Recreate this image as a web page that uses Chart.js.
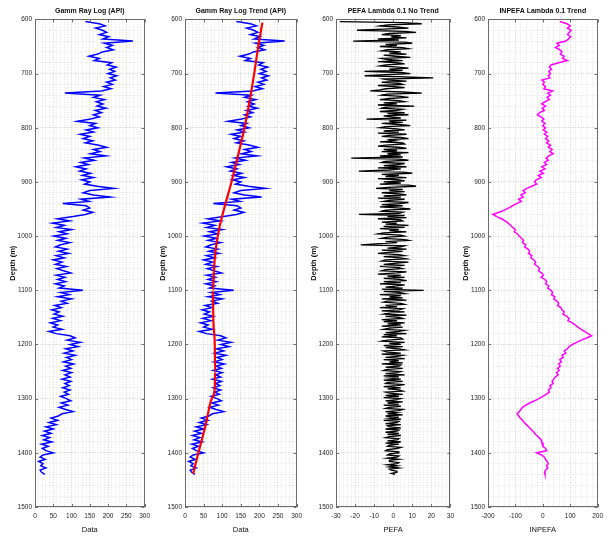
<!DOCTYPE html>
<html>
<head>
<meta charset="utf-8">
<script src="https://cdn.jsdelivr.net/npm/chart.js@4.4.0/dist/chart.umd.min.js"></script>
<style>
body { margin:0; background:#fff; width:608px; height:536px; position:relative; overflow:hidden; }
canvas { position:absolute; top:0; }
</style>
</head>
<body>
<canvas id="c1" width="155" height="536" style="left:0px"></canvas>
<canvas id="c2" width="157" height="536" style="left:150px"></canvas>
<canvas id="c3" width="158" height="536" style="left:301px"></canvas>
<canvas id="c4" width="155" height="536" style="left:453px"></canvas>
<script>
// sample depths (m): first sample and spacing
const depthStart = 604;
const depthStep = 4;
const pefaStep = 2;

// Gamma ray log (API)
const grValues = [
 138,176,192,166,185,196,176,202,186,268,190,212,196,214,184,172,148,176,162,210,
 198,222,204,218,200,224,206,220,196,212,188,208,182,82,178,160,190,168,186,170,
 194,165,182,160,176,152,116,166,150,172,140,160,124,150,132,158,138,172,196,160,
 178,152,194,135,162,125,146,112,140,122,152,130,160,128,150,136,170,216,150,132,
 160,206,126,148,76,140,150,132,158,138,104,62,95,48,80,58,100,66,88,52,
 84,62,96,70,56,88,64,92,58,80,50,74,56,86,60,78,98,58,82,62,
 84,56,80,66,131,70,94,62,100,72,88,54,72,46,66,52,76,48,70,42,
 62,50,74,38,58,96,110,88,124,96,118,84,104,80,110,86,100,78,106,84,
 98,76,100,82,96,74,98,82,94,76,96,80,92,70,86,98,72,90,66,84,
 104,74,64,44,62,38,58,30,50,26,44,20,40,24,46,18,36,20,30,50,
 22,14,28,10,22,16,30,14,18,27
];

// red trend on the gamma ray log
const trendDepths = [606, 650, 700, 750, 800, 850, 900, 950, 1000, 1050, 1100, 1150, 1200, 1250, 1280, 1300, 1350, 1400, 1438];
const trendValues = [208, 197, 186, 174, 160, 143, 125, 105, 88, 79, 75, 76, 80, 81, 80, 72, 55, 36, 22];

// PEFA (no trend), 2 m samples
const pefaValues = [
 -28,5,15,-3,-7,2,8,-5,-19,6,12,-2,-6,4,-1,7,-8,3,-21,6,10,-4,2,-7,5,8,-3,-6,4,-2,7,-5,1,9,-6,-3,5,-8,2,6,
 -4,-7,3,8,-2,5,-15,4,9,-3,-15,6,21,-5,-2,7,-6,3,5,-8,1,6,-4,-7,-12,5,15,-3,-6,4,8,-2,-7,3,6,-5,2,-8,11,-4,
 -6,5,2,-7,6,-3,8,-5,-1,4,-14,7,-2,5,-6,3,9,-4,-7,2,6,-5,3,-8,7,-2,-6,4,8,-3,1,-7,5,6,-4,-8,3,7,-5,2,
 -6,8,-3,4,-7,5,-22,3,8,-4,-6,6,2,-5,7,-8,4,-2,-18,5,10,-6,3,-4,7,-8,2,6,-5,4,-7,8,12,-3,-9,5,-2,6,-6,3,
 7,-5,4,-8,6,-2,-5,8,3,-6,5,-7,2,9,-4,-6,5,3,-18,6,-3,7,-8,4,5,-6,2,-4,8,-5,6,-7,3,-2,7,-5,-8,4,6,-3,
 -6,5,8,-4,2,-7,-17,6,4,-3,7,-6,5,-2,-8,3,6,-5,4,7,-4,-6,8,2,-5,6,-7,3,5,-4,-6,7,2,-8,4,-3,6,-5,3,7,
 -5,4,-7,6,2,-4,5,-6,16,-5,3,6,-7,4,-2,5,-6,7,-3,-5,4,6,-4,2,-7,5,3,-6,6,-2,-5,7,-4,3,5,-6,2,-5,6,-3,
 4,-6,5,-2,-5,6,3,-4,7,-5,2,-6,4,5,-3,-6,6,-2,4,-5,5,-4,3,6,-5,-3,4,-6,5,2,-4,6,-5,3,-2,5,-6,4,3,-4,
 5,-3,-5,4,2,-4,6,-5,3,-2,4,-5,5,-3,-4,6,2,-5,4,-3,3,5,-4,-2,5,-4,3,-5,4,2,-4,5,-3,3,-5,4,-2,-4,5,3,
 -4,2,-3,5,-4,3,-2,4,-5,3,2,-4,4,-3,-2,4,-4,3,2,-4,3,-3,4,-2,-4,3,2,-3,4,-4,3,-2,-3,4,2,-3,-4,3,3,-2,
 -3,3,2,-3,3,-2,-2,3,2,-3,2,-2,3,-2,-1,2,2,-1,1
];

// INPEFA (trend)
const inpefaValues = [
 62,88,100,90,104,96,90,102,94,84,52,60,46,62,70,64,78,72,90,58,
 30,24,32,22,28,20,26,-3,6,0,10,4,36,18,28,16,24,8,-4,10,
 -2,6,-12,-20,-6,4,-4,8,0,10,2,14,6,18,10,22,14,28,20,34,
 26,38,22,12,20,6,14,-4,8,-10,2,-16,-6,-24,-30,-22,-40,-58,-72,-64,
 -80,-72,-88,-78,-96,-110,-124,-140,-160,-182,-168,-150,-138,-126,-118,-110,-100,-104,-92,-86,
 -78,-70,-74,-62,-66,-54,-48,-52,-40,-44,-32,-26,-30,-18,-12,-16,-4,2,-6,8,
 14,10,22,18,30,36,32,44,40,52,58,54,66,70,78,74,88,96,92,108,
 118,128,140,152,166,178,160,140,124,108,96,90,78,84,70,74,62,68,58,64,
 54,60,50,56,46,40,34,38,26,30,20,24,12,0,-14,-30,-48,-62,-74,-80,
 -86,-94,-88,-82,-74,-68,-60,-52,-44,-36,-30,-22,-14,-6,-4,2,0,10,14,-22,
 -4,6,10,16,20,14,18,10,6,8
];

// axis ticks
const depthMin = 600, depthMax = 1500, depthMinor = 20, depthMajor = 100;

const FONT = "'Liberation Sans', Arial, sans-serif";

function toPoints(values, step) {
  return values.map((v, i) => ({ x: v, y: depthStart + i * step }));
}

// box round the plot and short inward ticks at the major values
const boxPlugin = {
  id: 'box',
  afterDraw(chart, args, opts) {
    const { ctx, chartArea: a, scales: { x, y } } = chart;
    ctx.save();
    ctx.strokeStyle = '#6b6b6b';
    ctx.lineWidth = 1;
    ctx.strokeRect(Math.round(a.left) + 0.5, Math.round(a.top) + 0.5,
      Math.round(a.right - a.left) - 1, Math.round(a.bottom - a.top) - 1);
    ctx.beginPath();
    x.ticks.forEach(t => {
      if (Math.abs(t.value % opts.xMajor) > 1e-6) return;
      const px = Math.round(x.getPixelForValue(t.value)) + 0.5;
      ctx.moveTo(px, a.top); ctx.lineTo(px, a.top + 3);
      ctx.moveTo(px, a.bottom); ctx.lineTo(px, a.bottom - 3);
    });
    y.ticks.forEach(t => {
      if (t.value % depthMajor !== 0) return;
      const py = Math.round(y.getPixelForValue(t.value)) + 0.5;
      ctx.moveTo(a.left, py); ctx.lineTo(a.left + 3, py);
      ctx.moveTo(a.right, py); ctx.lineTo(a.right - 3, py);
    });
    ctx.stroke();
    ctx.restore();
  }
};

function makePanel(id, title, xTitle, xMin, xMax, xMinor, xMajor, datasets) {
  const isMajor = (v, m) => Math.abs(v % m) < 1e-6;
  new Chart(document.getElementById(id), {
    type: 'scatter',
    data: { datasets },
    plugins: [boxPlugin],
    options: {
      responsive: false,
      animation: false,
      layout: { padding: { left: 0, right: 8, top: 0, bottom: 0 } },
      plugins: {
        legend: { display: false },
        tooltip: { enabled: false },
        title: { display: true, text: title, color: '#111', fullSize: false,
          font: { family: FONT, size: 7, weight: 'bold' }, padding: { top: 7, bottom: 4 } },
        box: { xMajor }
      },
      scales: {
        x: {
          type: 'linear', position: 'bottom', min: xMin, max: xMax,
          afterFit: s => { s.height = 29; },
          ticks: { stepSize: xMinor, autoSkip: false, maxRotation: 0, padding: 5, color: '#222',
            font: { family: FONT, size: 6.5 },
            callback: v => isMajor(v, xMajor) ? v : '' },
          grid: { drawTicks: false, lineWidth: 1,
            color: c => c.tick && isMajor(c.tick.value, xMajor) ? '#d0d0d0' : '#e4e4e4' },
          border: { display: false, dash: [1, 1.5] },
          title: { display: true, text: xTitle, color: '#111',
            font: { family: FONT, size: 7.5 }, padding: { top: 0, bottom: 2 } }
        },
        y: {
          type: 'linear', reverse: true, min: depthMin, max: depthMax,
          afterFit: s => { s.width = 35; },
          ticks: { stepSize: depthMinor, autoSkip: false, padding: 3, color: '#222',
            font: { family: FONT, size: 6.5 },
            callback: v => v % depthMajor === 0 ? v : '' },
          grid: { drawTicks: false, lineWidth: 1,
            color: c => c.tick && c.tick.value % depthMajor === 0 ? '#d0d0d0' : '#e4e4e4' },
          border: { display: false, dash: [1, 1.5] },
          title: { display: true, text: 'Depth (m)', color: '#111',
            font: { family: FONT, size: 7.5, weight: 'bold' }, padding: { top: 8, bottom: 0 } }
        }
      }
    }
  });
}

const grLine = color => ({
  data: toPoints(grValues, depthStep), showLine: true, pointRadius: 0,
  borderColor: color, borderWidth: 1.5, tension: 0
});

makePanel('c1', 'Gamm Ray Log (API)', 'Data', 0, 300, 10, 50, [grLine('#0000ff')]);

makePanel('c2', 'Gamm Ray Log Trend (API)', 'Data', 0, 300, 10, 50, [
  { data: trendDepths.map((d, i) => ({ x: trendValues[i], y: d })), showLine: true,
    pointRadius: 0, borderColor: '#ff0000', borderWidth: 2.2, tension: 0.4, cubicInterpolationMode: 'monotone' },
  grLine('#0000ff')
]);

makePanel('c3', 'PEFA Lambda 0.1 No Trend', 'PEFA', -30, 30, 2, 10, [
  { data: toPoints(pefaValues, pefaStep), showLine: true, pointRadius: 0,
    borderColor: '#000000', borderWidth: 1.3, tension: 0 }
]);

makePanel('c4', 'INPEFA Lambda 0.1 Trend', 'INPEFA', -200, 200, 20, 100, [
  { data: toPoints(inpefaValues, depthStep), showLine: true, pointRadius: 0,
    borderColor: '#ff00ff', borderWidth: 1.5, tension: 0 }
]);
</script>
</body>
</html>
